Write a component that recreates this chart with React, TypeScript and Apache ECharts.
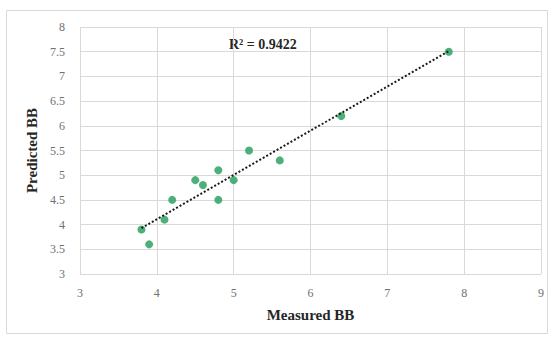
import React, { useEffect, useRef } from "react";
import * as echarts from "echarts";

const measured = [3.8, 3.9, 4.1, 4.2, 4.5, 4.6, 4.8, 4.8, 5.0, 5.2, 5.6, 6.4, 7.8];
const predicted = [3.9, 3.6, 4.1, 4.5, 4.9, 4.8, 5.1, 4.5, 4.9, 5.5, 5.3, 6.2, 7.5];
const r2Label = "R² = 0.9422";
const xTitle = "Measured BB";
const yTitle = "Predicted BB";

function fitLine(xs: number[], ys: number[]) {
  const n = xs.length;
  const mx = xs.reduce((a, b) => a + b, 0) / n;
  const my = ys.reduce((a, b) => a + b, 0) / n;
  let sxy = 0, sxx = 0;
  for (let i = 0; i < n; i++) {
    sxy += (xs[i] - mx) * (ys[i] - my);
    sxx += (xs[i] - mx) * (xs[i] - mx);
  }
  const slope = sxy / sxx;
  const icpt = my - slope * mx;
  const x0 = Math.min(...xs);
  const x1 = Math.max(...xs);
  return [[x0, icpt + slope * x0], [x1, icpt + slope * x1]];
}

export default function App() {
  const ref = useRef<HTMLDivElement>(null);
  useEffect(() => {
    document.body.style.margin = "0";
    const chart = echarts.init(ref.current!, null, { renderer: "svg" });
    const serif = "'Liberation Serif', 'Times New Roman', serif";
    const points = measured.map((x, i) => [x, predicted[i]]);
    chart.setOption({
      animation: false,
      backgroundColor: "#ffffff",
      grid: { left: 80, right: 17, top: 27, bottom: 67 },
      graphic: [
        {
          type: "rect",
          shape: { x: 6.5, y: 10.5, width: 541, height: 323 },
          style: { fill: "none", stroke: "#d9d9d9", lineWidth: 1 },
          silent: true,
        },
        {
          type: "text",
          left: 229,
          top: 37,
          style: {
            text: r2Label,
            font: `bold 14px ${serif}`,
            fill: "#262626",
          },
        },
      ],
      xAxis: {
        type: "value",
        min: 3,
        max: 9,
        interval: 1,
        name: xTitle,
        nameLocation: "middle",
        nameGap: 33,
        nameTextStyle: { fontFamily: serif, fontWeight: "bold", fontSize: 15, color: "#262626" },
        axisLine: { show: false },
        axisTick: { show: false },
        axisLabel: { fontFamily: serif, fontSize: 12, color: "#707070", margin: 13 },
        splitLine: { show: true, lineStyle: { color: "#d9d9d9", width: 1 } },
      },
      yAxis: {
        type: "value",
        min: 3,
        max: 8,
        interval: 0.5,
        name: yTitle,
        nameLocation: "middle",
        nameGap: 40,
        nameTextStyle: { fontFamily: serif, fontWeight: "bold", fontSize: 15, color: "#262626" },
        axisLine: { show: false },
        axisTick: { show: false },
        axisLabel: { fontFamily: serif, fontSize: 12, color: "#707070", margin: 15 },
        splitLine: { show: true, lineStyle: { color: "#d9d9d9", width: 1 } },
      },
      series: [
        {
          type: "scatter",
          data: points,
          symbolSize: 8,
          itemStyle: { color: "#3aa76d", opacity: 0.9 },
          z: 2,
        },
        {
          type: "line",
          data: fitLine(measured, predicted),
          showSymbol: false,
          symbol: "none",
          lineStyle: { color: "#1a1a1a", width: 2, type: [2, 2] },
          z: 3,
        },
      ],
    });
    return () => chart.dispose();
  }, []);
  return <div ref={ref} style={{ width: 558, height: 341 }} />;
}
